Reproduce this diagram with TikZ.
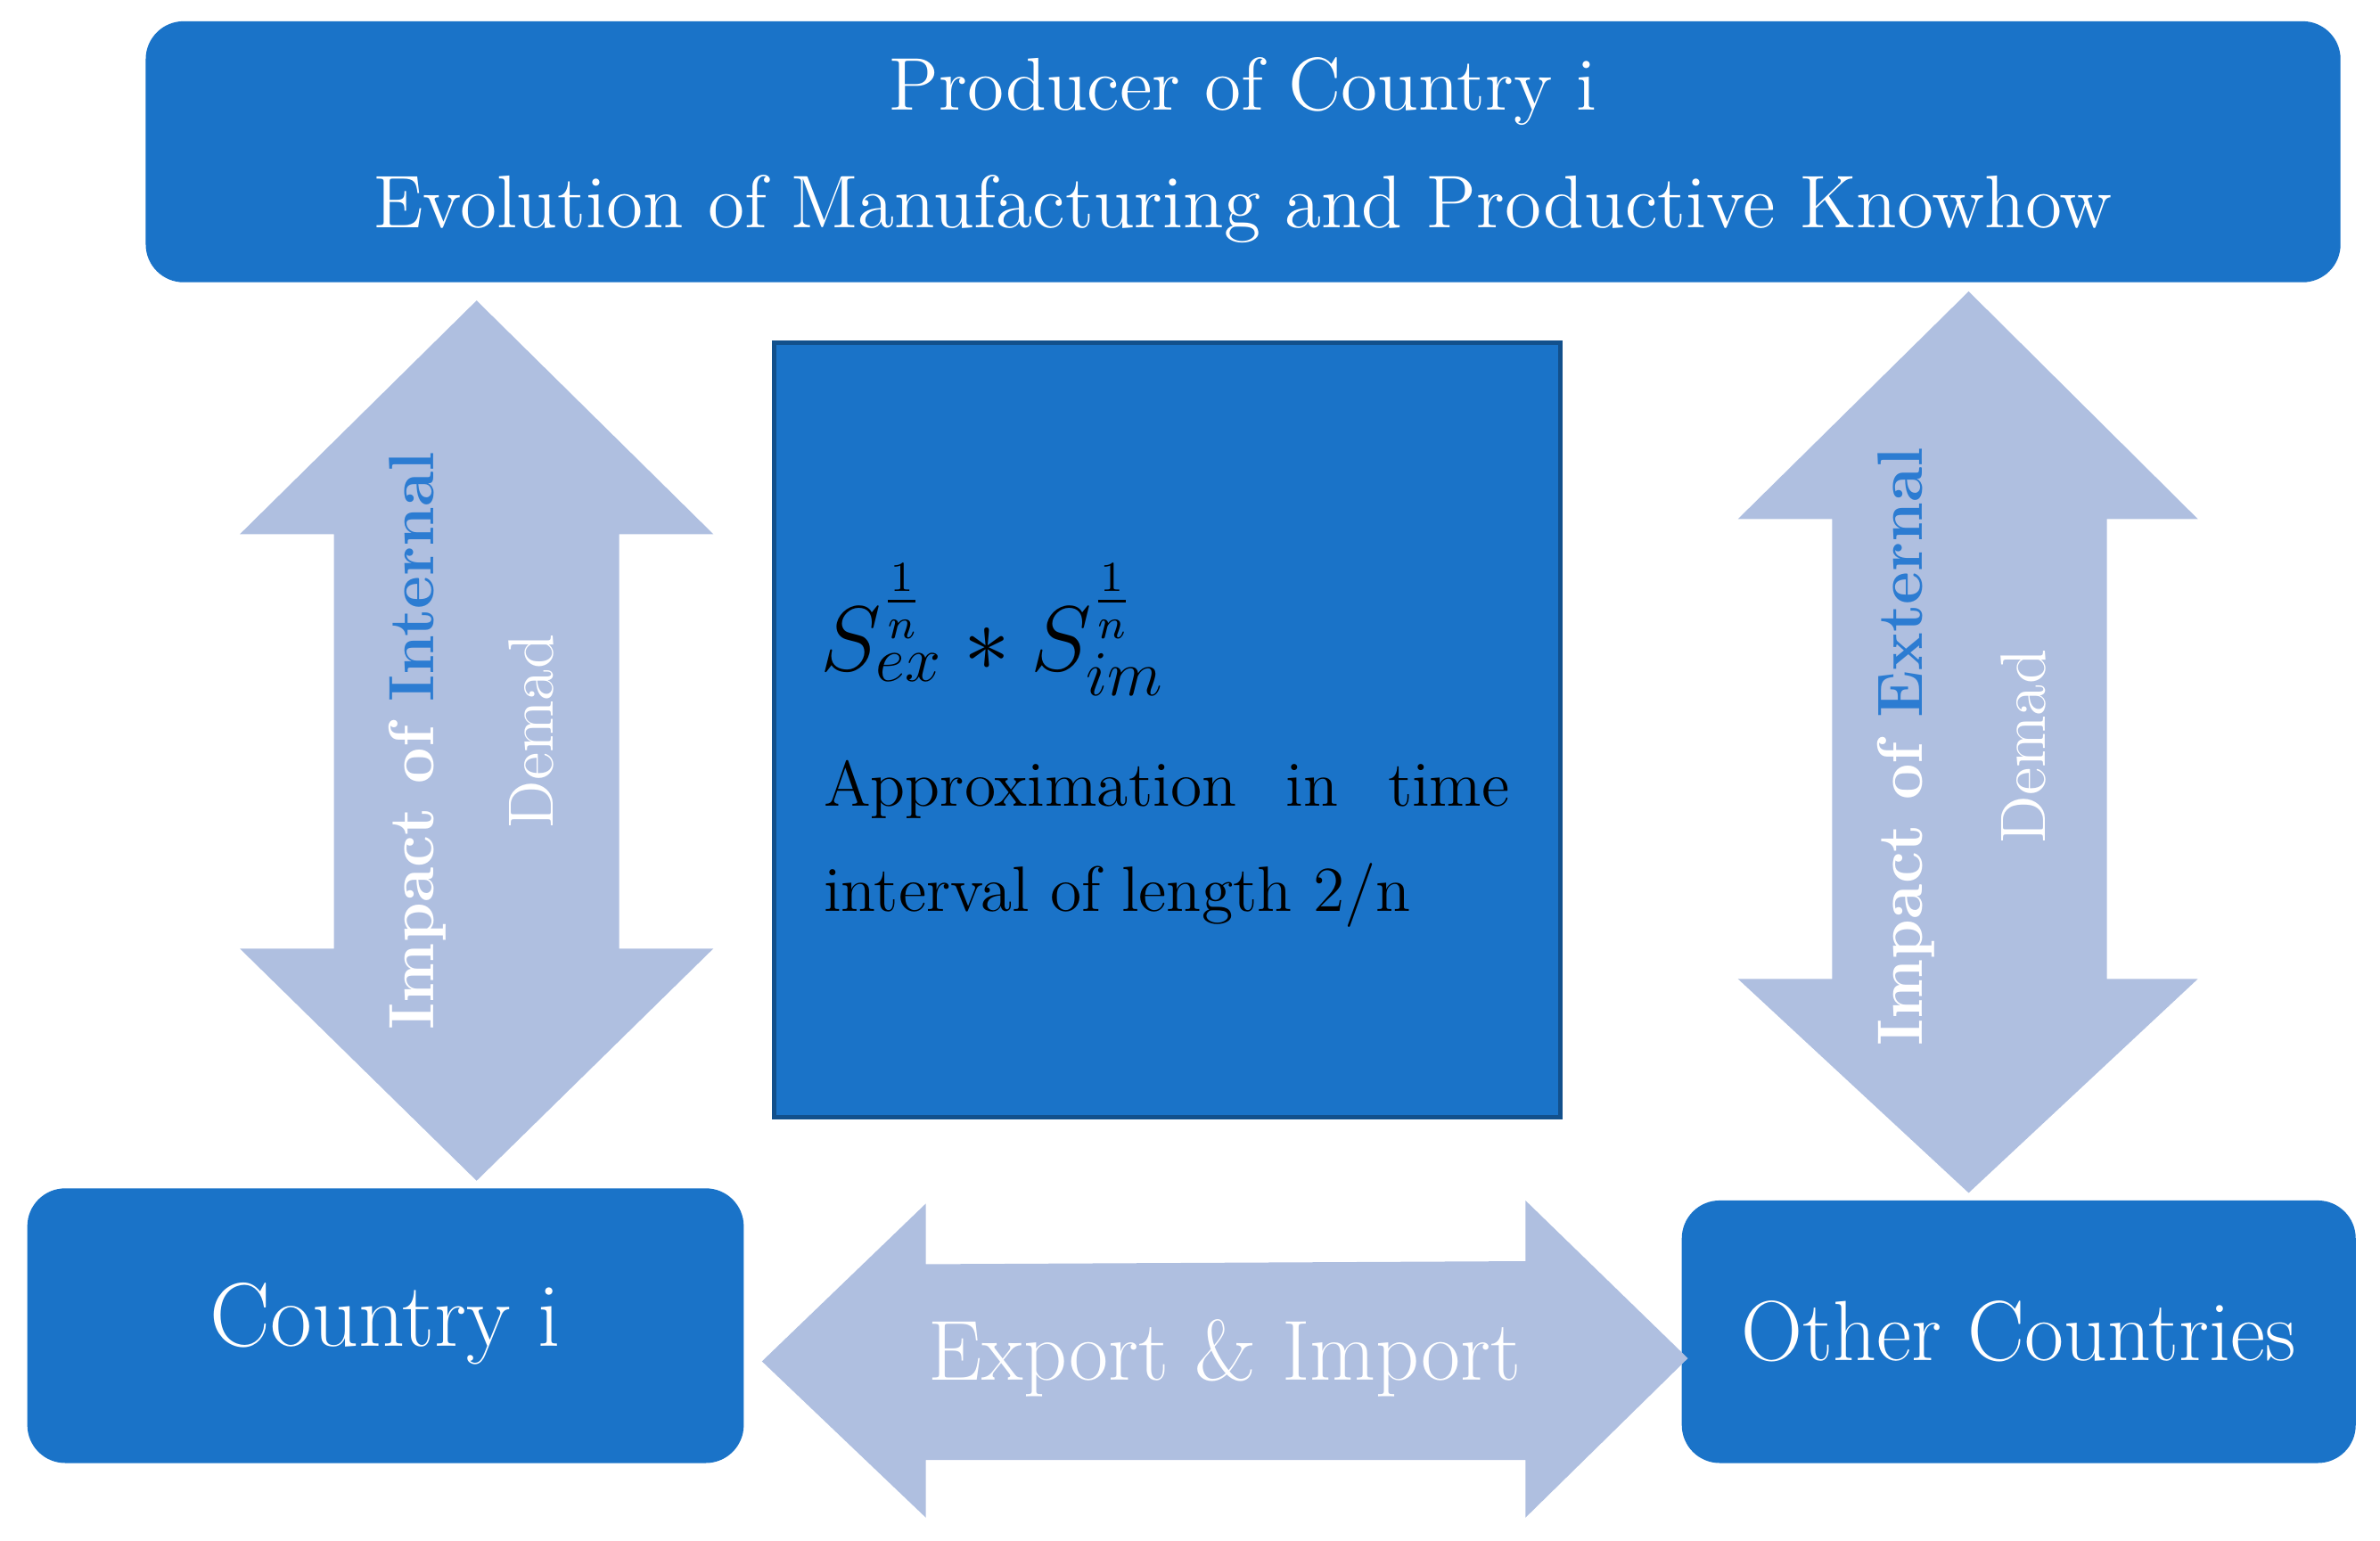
\documentclass[tikz,border=0pt]{standalone}
\usepackage{amsmath}
\begin{document}
\begin{tikzpicture}[x=0.1mm,y=-0.1mm,
 box/.style={fill=boxblue,rounded corners=2.5mm,text=white},
 arr/.style={fill=arrblue,draw=none},
 lab/.style={text=white,font=\fontsize{12}{14}\selectfont,align=center}]
\definecolor{boxblue}{HTML}{1A73C8}
\definecolor{arrblue}{HTML}{AFBFE0}
\definecolor{hl}{HTML}{2C7CD2}
\useasboundingbox (0,0) rectangle (1568,1015);
% boxes
\fill[box] (96,14) rectangle (1542,186);
\node[lab,font=\fontsize{14}{16}\selectfont] (t1) at (819,60) {Producer of Country i};
\node[lab,font=\fontsize{14}{16}\selectfont] (t2) at (819,138) {Evolution of Manufacturing and Productive Knowhow};
\fill[boxblue,draw=boxblue!70!black,line width=0.8pt] (510,226) rectangle (1028,736);
\node[anchor=west,inner sep=0pt] (m) at (540,415) {\fontsize{17}{20}\selectfont $S_{ex}^{\frac{1}{n}} * S_{im}^{\frac{1}{n}}$};
\node[anchor=west,inner sep=0pt,font=\fontsize{12}{16}\selectfont] (a1) at (542,520) {\makebox[45.2mm][s]{Approximation\hfill in\hfill time}};
\node[anchor=west,inner sep=0pt,font=\fontsize{12}{16}\selectfont] (a2) at (542,590) {interval of length 2/n};
\fill[box] (18,783) rectangle (490,964);
\node[lab,font=\fontsize{17}{20}\selectfont] (ci) at (254,872) {Country i};
\fill[box] (1108,791) rectangle (1552,964);
\node[lab,font=\fontsize{16}{20}\selectfont] (oc) at (1330,877) {Other Countries};
% left arrow
\fill[arr] (314,198) -- (470,352) -- (408,352) -- (408,625) -- (470,625) -- (314,778) -- (158,625) -- (220,625) -- (220,352) -- (158,352) -- cycle;
\node[lab,rotate=90,font=\fontsize{12}{14}\selectfont\bfseries] (l1) at (275,488) {Impact of \textcolor{hl}{Internal}};
\node[lab,rotate=90] (l2) at (350,482) {Demad};
% right arrow
\fill[arr] (1297,192) -- (1448,342) -- (1388,342) -- (1388,645) -- (1448,645) -- (1297,786) -- (1145,645) -- (1207,645) -- (1207,342) -- (1145,342) -- cycle;
\node[lab,rotate=90,font=\fontsize{12}{14}\selectfont\bfseries] (r1) at (1256,492) {Impact of \textcolor{hl}{External}};
\node[lab,rotate=90] (r2) at (1333,492) {Demad};
% horizontal arrow
\fill[arr] (502,897) -- (610,793) -- (610,833) -- (1005,831) -- (1005,791) -- (1112,895) -- (1005,1000) -- (1005,962) -- (610,962) -- (610,1000) -- cycle;
\node[lab,font=\fontsize{16}{20}\selectfont] (ei) at (807,895) {Export \& Import};
\end{tikzpicture}
\end{document}
